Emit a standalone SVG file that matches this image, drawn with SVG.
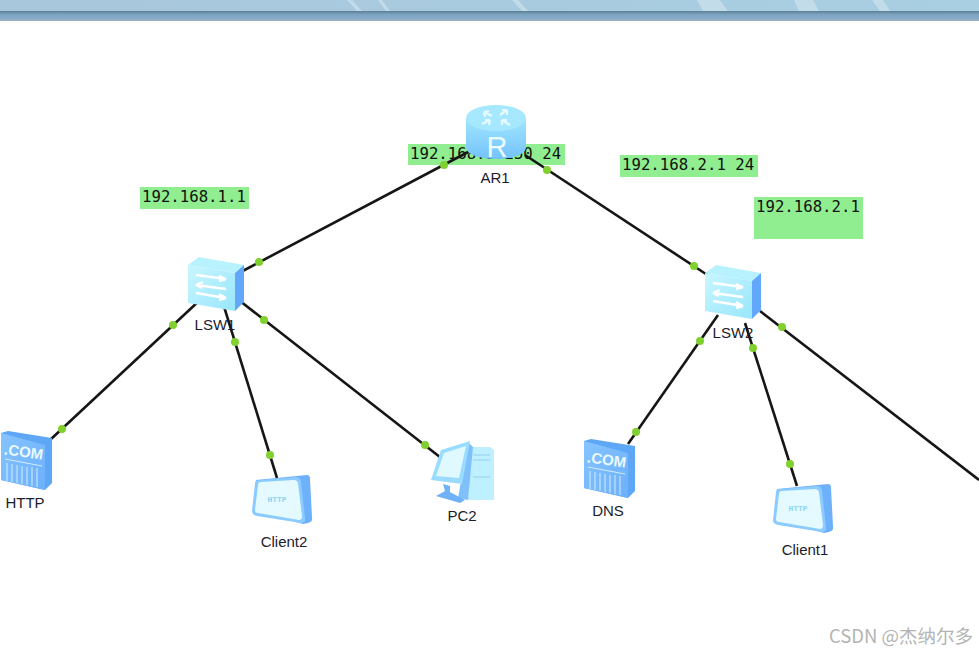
<svg xmlns="http://www.w3.org/2000/svg" width="979" height="654" viewBox="0 0 979 654">
<style>
.lbl{font-family:"Liberation Sans",Arial,sans-serif;font-size:15px;fill:#1c1c2c;text-anchor:middle}
.ip{font-family:"DejaVu Sans Mono","Liberation Mono",monospace;font-size:15.7px;fill:#111}
.box{fill:#90ee90}
.ln{stroke:#161616;stroke-width:2.6;fill:none}
.dot{fill:#80d030}
.wm{font-family:"Noto Sans CJK SC","Liberation Sans",sans-serif;font-size:18.5px;fill:#b4b4b4}
</style>
<defs>
<linearGradient id="hd" x1="0" y1="0" x2="1" y2="0"><stop offset="0" stop-color="#a8c6dc"/><stop offset="1" stop-color="#a9cfe2"/></linearGradient>
<linearGradient id="bar" x1="0" y1="0" x2="0" y2="1"><stop offset="0" stop-color="#5c7f92"/><stop offset=".35" stop-color="#7ba3c2"/><stop offset=".8" stop-color="#8cacc8"/><stop offset="1" stop-color="#9db0c6"/></linearGradient>
<linearGradient id="cyl" x1="0" y1="0" x2="0" y2="1"><stop offset="0" stop-color="#a0e6ff"/><stop offset="1" stop-color="#74c2fc"/></linearGradient>
<linearGradient id="sw" x1="0" y1="0" x2="1" y2="1"><stop offset="0" stop-color="#c8f6ff"/><stop offset="1" stop-color="#98e6fb"/></linearGradient>
<linearGradient id="srv" x1="0" y1="0" x2="1" y2="1"><stop offset="0" stop-color="#86c4ff"/><stop offset="1" stop-color="#6cb0fb"/></linearGradient>
<g id="switch">
<path d="M-27,-21 L-16,-29 L29,-21 L20,-13Z" fill="#b8f2ff"/>
<path d="M-27,-21 L20,-13 L20,25 L-27,17Z" fill="url(#sw)"/>
<path d="M20,-13 L29,-21 L29,16 L20,25Z" fill="#62a8fa"/>
<g stroke="#fff" stroke-width="2.4" fill="none"><path d="M-19,-11 L11,-7 M11,-7 l-7,-3 M11,-7 l-7,2"/><path d="M-19,-1 L11,3 M-19,-1 l7,-3 M-19,-1 l6,3"/><path d="M-19,7 L11,12 M11,12 l-7,-4 M11,12 l-7,2"/></g>
</g>
<g id="server">
<path d="M0,-4 L7,-6 L51,1 L51,46 L44,53 L0,43Z" fill="#5ea6f6"/>
<path d="M0,-4 L44,8 L44,53 L0,43Z" fill="url(#srv)"/>
<text x="22" y="20" font-family="Liberation Sans,sans-serif" font-weight="700" font-size="15" fill="#eafaff" text-anchor="middle" transform="rotate(8 22 20)">.COM</text>
<path d="M4,22 L41,29 M6,26V44 M11,27V45 M16,28V46 M21,29V47 M26,30V48 M31,30V49 M36,31V50" stroke="#d4ecff" stroke-width="1" fill="none"/>
</g>
<g id="client">
<path d="M-2,31 L1,1 L52,-4 Q55,-4 55,0 L57,38 Q58,43 53,44 L48,45Z" fill="#6db1fb"/>
<path d="M-3,32 L0,4 Q0,1 4,1 L41,-2 Q45,-2 46,2 L50,39 Q51,44 46,44 L2,37 Q-3,36 -3,32Z" fill="#8ccbff"/>
<path d="M0,31 L3,6 Q3,3 6,3 L39,1 Q42,1 43,4 L47,37 Q47,41 44,41 L3,34 Q0,34 0,31Z" fill="#e4faff"/>
<text x="22" y="23" font-family="Liberation Mono,monospace" font-size="8" font-weight="700" fill="#8fd4f4" text-anchor="middle">HTTP</text>
</g>
</defs>
<rect width="979" height="654" fill="#fff"/>
<g id="header">
<rect width="979" height="11" fill="url(#hd)"/>
<path d="M347,0l10,11h5l-10,-11ZM378,0l8,11h4l-8,-11ZM512,0l10,11h6l-10,-11ZM697,0l6,11h25l-8,-11ZM794,0l5,11h20l-6,-11ZM872,0l8,11h10l-7,-11Z" fill="#d4e6ef" opacity=".6"/>
<rect y="11" width="979" height="10" fill="url(#bar)"/>
</g>
<g id="labels">
<rect class="box" x="408" y="144" width="157" height="21"/>
<text class="ip" x="410" y="159">192.168.1.250 24</text>
<rect class="box" x="140" y="187" width="109" height="22"/>
<text class="ip" x="142" y="202">192.168.1.1</text>
<rect class="box" x="620" y="155" width="138" height="22"/>
<text class="ip" x="622" y="170">192.168.2.1 24</text>
<rect class="box" x="754" y="197" width="109" height="42"/>
<text class="ip" x="756" y="212">192.168.2.1</text>
</g>
<g id="connectors">
<path class="ln" d="M470,151L235,275"/>
<path class="ln" d="M525,155L715,280"/>
<path class="ln" d="M200,300L50,440"/>
<path class="ln" d="M222,300L277,478"/>
<path class="ln" d="M240,301L445,461"/>
<path class="ln" d="M718,315L628,444"/>
<path class="ln" d="M745,323L797,486"/>
<path class="ln" d="M760,311L979,480"/>
<g class="dot">
<circle cx="444" cy="165" r="4"/><circle cx="547" cy="170" r="4"/>
<circle cx="259" cy="262" r="4"/><circle cx="694" cy="266" r="4"/>
<circle cx="173" cy="325" r="4"/><circle cx="235" cy="342" r="4"/><circle cx="264" cy="320" r="4"/>
<circle cx="62" cy="429" r="4"/><circle cx="270" cy="455" r="4"/><circle cx="425" cy="445" r="4"/>
<circle cx="700" cy="341" r="4"/><circle cx="753" cy="348" r="4"/><circle cx="782" cy="327" r="4"/>
<circle cx="636" cy="432" r="4"/><circle cx="790" cy="464" r="4"/>
</g>
</g>
<g id="AR1">
<path d="M466,119 V147 C466,163 526,163 526,147 V119Z" fill="url(#cyl)"/>
<ellipse cx="496" cy="118" rx="30" ry="13" fill="#a6e8ff"/>
<g stroke="#e6fbff" stroke-width="2.2" fill="none"><path d="M484,112l8,4M484,112l1,5M484,112l5,-1"/><path d="M507,110l-7,5M507,110l-5,0M507,110l0,5"/><path d="M482,124l8,-4M490,120l-5,0M490,120l-1,5"/><path d="M510,125l-8,-5M502,120l5,0M502,120l0,5"/></g>
<text x="497" y="157" font-family="Liberation Sans,sans-serif" font-size="29" fill="#eafcff" text-anchor="middle">R</text>
<text class="lbl" x="495" y="183">AR1</text>
</g>
<g id="LSW1"><use href="#switch" x="215" y="286"/><text class="lbl" x="215" y="330">LSW1</text></g>
<g id="LSW2"><use href="#switch" x="732" y="294"/><text class="lbl" x="733" y="338">LSW2</text></g>
<g id="HTTP"><use href="#server" x="1" y="437"/><text class="lbl" x="25" y="508">HTTP</text></g>
<g id="DNS"><use href="#server" x="584" y="445"/><text class="lbl" x="608" y="516">DNS</text></g>
<g id="Client2"><use href="#client" x="255" y="479"/><text class="lbl" x="284" y="547">Client2</text></g>
<g id="Client1"><use href="#client" x="776" y="488"/><text class="lbl" x="805" y="555">Client1</text></g>
<g id="PC2">
<path d="M470,447H490L494,450V500H468Z" fill="#bff0ff"/>
<path d="M473,455h17M473,460h17M473,477h17" stroke="#8fd0f0" stroke-width="1"/>
<path d="M468,442L473,447L468,500L458,498Z" fill="#7fc0fb"/>
<path d="M441,450L470,441L462,484L431,480Z" fill="#9adcff"/>
<path d="M444,453L466,446L459,478L436,476Z" fill="#e0f9ff"/>
<path d="M443,484L450,486V492L465,500L460,503L436,496L445,491Z" fill="#6fb2f8"/>
<text class="lbl" x="462" y="521">PC2</text>
</g>
<text class="wm" x="829" y="643">CSDN @杰纳尔多</text>
</svg>
